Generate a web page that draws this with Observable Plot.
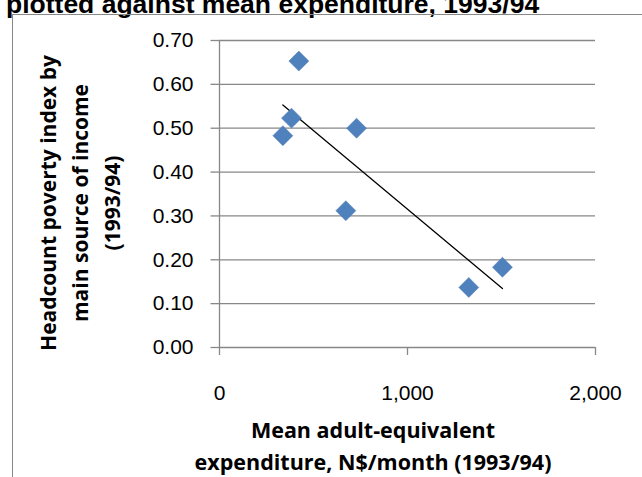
<!DOCTYPE html>
<html><head><meta charset="utf-8">
<script src="https://cdn.jsdelivr.net/npm/d3@7"></script>
<script src="https://cdn.jsdelivr.net/npm/@observablehq/plot@0.6"></script>
<style>
body{margin:0;background:#fff;}
#wrap{position:relative;width:642px;height:477px;overflow:hidden;font-family:"Open Sans",Lato,sans-serif;}
#chart{position:absolute;left:0;top:0;}
#chart svg text{font-size:21px !important;fill:#000 !important;}
.lbl{position:absolute;font-weight:bold;font-size:21.5px;color:#000;text-align:center;line-height:32px;}
</style></head><body>
<div id="wrap">
  <div id="chart"></div>
  <div class="lbl" style="left:6px;top:-11px;white-space:nowrap;text-align:left;font-family:'Liberation Sans',Arial,sans-serif;font-size:26.5px;line-height:30px;">plotted against mean expenditure, 1993/94</div>
  <div style="position:absolute;left:12px;top:14px;width:640px;height:1px;background:#888"></div>
  <div style="position:absolute;left:12px;top:14px;width:1px;height:470px;background:#888"></div>
  <div class="lbl" style="left:373px;top:414px;transform:translateX(-50%);white-space:nowrap;">Mean adult-equivalent<br>expenditure, N$/month (1993/94)</div>
  <div class="lbl" style="left:80px;top:203px;transform:translate(-50%,-50%) rotate(-90deg);white-space:nowrap;font-size:21px;">Headcount poverty index by<br>main source of income<br>(1993/94)</div>
</div>
<script>
// mean adult-equivalent expenditure (N$/month) and headcount index
const expenditure = [422, 383, 337, 729, 672, 1326, 1505];
const headcount = [0.653, 0.523, 0.483, 0.500, 0.312, 0.137, 0.183];
const xTicks = [0, 1000, 2000];
const yTicks = [0, 0.1, 0.2, 0.3, 0.4, 0.5, 0.6, 0.7];

const points = expenditure.map((x, i) => ({x, y: headcount[i]}));

const chart = Plot.plot({
  width: 642,
  height: 477,
  marginLeft: 219,
  marginRight: 47,
  marginTop: 40,
  marginBottom: 130,
  style: {fontFamily: "'Liberation Sans', Arial, sans-serif", color: "#000"},
  x: {domain: [0, 2000], label: null},
  y: {domain: [0, 0.7], label: null},
  marks: [
    Plot.gridY(yTicks, {stroke: "#888", strokeOpacity: 1, strokeWidth: 1.3}),
    Plot.ruleY(yTicks, {x1: -45, x2: 0, stroke: "#888", strokeWidth: 1.3}),
    Plot.ruleX([0], {stroke: "#888", strokeWidth: 1.3}),
    Plot.axisY({ticks: yTicks, tickFormat: d3.format(".2f"), tickSize: 0, tickPadding: 26, label: null}),
    Plot.axisX({ticks: xTicks, tickFormat: d3.format(","), tickSize: 8, tickPadding: 30, stroke: "#888", strokeWidth: 1.3, strokeOpacity: 1, label: null}),
    Plot.linearRegressionY(points, {x: "x", y: "y", ci: 0, stroke: "black", strokeWidth: 1.3}),
    Plot.dot(points, {x: "x", y: "y", symbol: "diamond2", r: 9, fill: "#4f81bd", stroke: "#4a7ab5", strokeWidth: 0.5})
  ]
});
document.getElementById("chart").appendChild(chart);
</script>
</body></html>
